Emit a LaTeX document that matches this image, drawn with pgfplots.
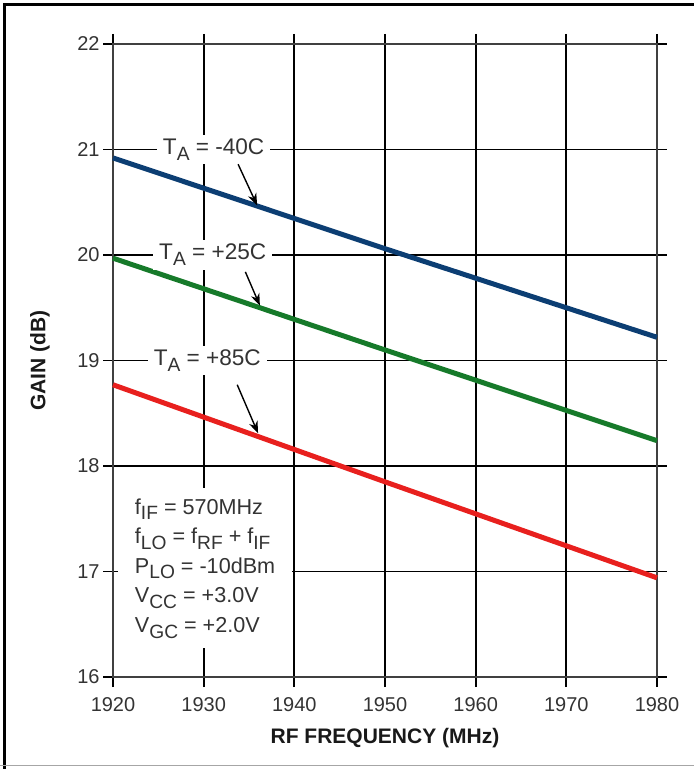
\documentclass[border=0pt]{standalone}
\usepackage{fontspec}
\setmainfont{Liberation Sans}
\usepackage{pgfplots}
\pgfplotsset{compat=1.18}
\usetikzlibrary{arrows.meta}
\definecolor{cblue}{RGB}{12,62,115}
\definecolor{cgreen}{RGB}{22,122,42}
\definecolor{cred}{RGB}{232,32,30}
\newcommand\sub[1]{\raisebox{-0.5ex}{\fontsize{9.6}{10}\selectfont #1}}
\begin{document}
\begin{tikzpicture}
\useasboundingbox (0pt,0pt) rectangle (347pt,384.5pt);
\draw[line width=1.3pt] (2.2pt,0pt) -- (2.2pt,382.2pt) -- (347pt,382.2pt);
\draw[black!35, line width=0.6pt] (0pt,1.6pt) -- (347pt,1.6pt);
\begin{axis}[
  at={(56.5pt,46pt)}, anchor=south west,
  scale only axis, width=272pt, height=316.5pt,
  xmin=1920, xmax=1980, ymin=16, ymax=22,
  xtick={1920,1930,...,1980}, ytick={16,17,...,22},
  grid=major,
  major grid style={black, line width=0.95pt},
  axis line style={black!75, line width=1.1pt},
  tick align=outside, major tick length=5pt,
  tick style={black, line width=0.85pt},
  /pgf/number format/assume math mode=true,
  /pgf/number format/set thousands separator={},
  tick label style={font=\fontsize{10}{12}\selectfont, text=black!80},
  xticklabel style={yshift=-1.5pt},
  yticklabel style={inner xsep=1.5pt},
  xlabel={\textbf{RF FREQUENCY (MHz)}},
  ylabel={\textbf{GAIN (dB)}},
  label style={font=\fontsize{10.5}{12}\selectfont, text=black!90},
  xlabel style={at={(axis description cs:0.5,-0.0964)}, anchor=center},
  ylabel style={at={(axis description cs:-0.1342,0.5)}, anchor=center},
  clip=false,
]
\addplot[cblue, line width=2.5pt] coordinates {(1920,20.92) (1950,20.06) (1980,19.22)};
\addplot[cgreen, line width=2.5pt] coordinates {(1920,19.97) (1950,19.10) (1980,18.24)};
\addplot[cred, line width=2.5pt] coordinates {(1920,18.77) (1950,17.85) (1980,16.94)};

\node[fill=white, inner xsep=3pt, inner ysep=2pt, font=\fontsize{11.3}{12}\selectfont, text=black!80] at (axis cs:1931.1,21) {T\sub{A} = -40C};
\node[fill=white, inner xsep=3pt, inner ysep=2pt, font=\fontsize{11.3}{12}\selectfont, text=black!80] at (axis cs:1931.0,20) {T\sub{A} = +25C};
\node[fill=white, inner xsep=3pt, inner ysep=2pt, font=\fontsize{11.3}{12}\selectfont, text=black!80] at (axis cs:1930.4,19) {T\sub{A} = +85C};

\draw[-{Stealth[length=6pt,width=4.5pt]}, line width=0.7pt] (axis cs:1933.8,20.86) -- (axis cs:1935.9,20.47);
\draw[-{Stealth[length=6pt,width=4.5pt]}, line width=0.7pt] (axis cs:1934.6,19.84) -- (axis cs:1936.2,19.52);
\draw[-{Stealth[length=6pt,width=4.5pt]}, line width=0.7pt] (axis cs:1933.7,18.77) -- (axis cs:1936.0,18.31);

\node[fill=white, anchor=west, align=left, inner xsep=8.5pt, inner ysep=5pt,
  font=\fontsize{10.8}{14.8}\selectfont, text=black!80] at (axis cs:1920.5,17.03)
  {f\sub{IF} = 570MHz\\
   f\sub{LO} = f\sub{RF} + f\sub{IF}\\
   P\sub{LO} = -10dBm\\
   V\sub{CC} = +3.0V\\
   V\sub{GC} = +2.0V};
\end{axis}
\end{tikzpicture}
\end{document}
